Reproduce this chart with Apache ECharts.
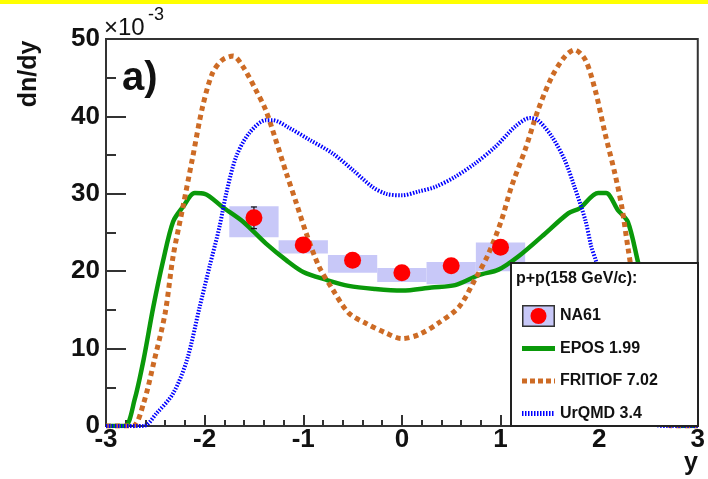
<!DOCTYPE html>
<html>
<head>
<meta charset="utf-8">
<script src="https://cdn.jsdelivr.net/npm/echarts@6/dist/echarts.min.js"></script>
<style>
  html, body { margin: 0; padding: 0; background: #fff; }
  #main { width: 708px; height: 479px; }
</style>
</head>
<body>
<div id="main"></div>
<script>
// NA61 p+p 158 GeV/c, dn/dy (x 10^-3)
var ptY = [-1.5, -1, -0.5, 0, 0.5, 1];
var ptVal = [26.9, 23.4, 21.4, 19.8, 20.7, 23.1];
var statErr = [1.4, 0.6, 0.5, 0.5, 0.5, 0.6];
var sysLo = [24.4, 22.3, 19.8, 18.6, 18.3, 20.0];
var sysHi = [28.4, 24.0, 22.1, 20.4, 21.2, 23.7];
var binHalf = 0.25;

// model curves [y, dn/dy]
var epos = [[-3,0],[-2.81,0],[-2.71,3.4],[-2.62,8.5],[-2.52,15.4],[-2.42,21.4],[-2.32,26.4],[-2.22,28.3],
  [-2.10,30.1],[-2.0,30.0],[-1.82,28.3],[-1.61,26.4],[-1.38,23.6],[-1.17,21.4],[-1.0,19.9],[-0.77,18.9],
  [-0.54,18.1],[-0.27,17.7],[0,17.5],[0.30,17.9],[0.54,18.2],[0.78,19.5],[0.98,20.2],[1.18,21.9],
  [1.42,24.5],[1.69,27.5],[1.80,28.1],[1.99,30.1],[2.07,30.1],[2.19,27.9],[2.29,26.4],[2.39,21.4],
  [2.50,15.4],[2.60,8.5],[2.70,3.4],[2.80,0],[3,0]];
var fritiof = [[-3,0],[-2.73,0],[-2.62,2.9],[-2.51,8.5],[-2.40,14.6],[-2.32,21.9],[-2.22,28.3],[-2.12,34.8],
  [-2.02,41.3],[-1.92,45.6],[-1.82,47.3],[-1.71,47.8],[-1.61,46.4],[-1.48,43.4],[-1.38,40.8],[-1.28,37.0],
  [-1.17,32.6],[-1.07,28.8],[-0.97,24.9],[-0.84,20.6],[-0.70,17.6],[-0.54,14.6],[-0.37,13.3],[-0.16,12.0],
  [0,11.3],[0.17,11.8],[0.37,13.3],[0.58,15.4],[0.74,18.9],[0.88,22.3],[1.01,26.6],[1.11,30.9],[1.25,35.7],
  [1.38,40.8],[1.52,45.1],[1.65,47.7],[1.75,48.6],[1.86,47.3],[1.96,43.4],[2.06,37.8],[2.16,32.6],
  [2.23,28.3],[2.29,23.2],[2.40,14.6],[2.51,8.5],[2.62,2.9],[2.73,0],[3,0]];
var urqmd = [[-3,0],[-2.62,0],[-2.49,1.6],[-2.32,4.2],[-2.18,8.5],[-2.05,15.4],[-1.95,20.6],[-1.85,25.7],
  [-1.78,30.1],[-1.68,34.8],[-1.55,37.8],[-1.38,39.5],[-1.31,39.5],[-1.14,38.5],[-0.94,37.0],[-0.70,35.2],
  [-0.50,33.1],[-0.30,30.9],[-0.16,30.0],[0,29.8],[0.17,30.3],[0.34,30.9],[0.54,32.2],[0.74,33.9],
  [0.95,36.1],[1.15,38.7],[1.30,39.8],[1.38,39.5],[1.52,37.4],[1.65,34.4],[1.75,30.9],[1.86,26.6],
  [1.92,23.2],[1.97,21.2],[2.05,15.4],[2.18,8.5],[2.32,4.2],[2.49,1.6],[2.62,0],[3,0]];

var legendNames = ['NA61', 'EPOS 1.99', 'FRITIOF 7.02', 'UrQMD 3.4'];

var cGreen = '#0a990a', cOrange = '#cd6b25', cBlue = '#0000ff', cBox = '#c8c8f8';
var font = '"Liberation Sans", Arial, sans-serif';

function svgIcon(body) {
  return 'image://data:image/svg+xml;charset=utf-8,' + encodeURIComponent(
    '<svg xmlns="http://www.w3.org/2000/svg" width="33" height="22" viewBox="0 0 33 22">' + body + '</svg>');
}
var icons = [
  svgIcon('<rect x="0.75" y="0.75" width="31.5" height="20.5" fill="' + cBox + '" stroke="#333" stroke-width="1.5"/><circle cx="16.5" cy="11" r="8" fill="#ff0000"/>'),
  svgIcon('<line x1="0" y1="11" x2="33" y2="11" stroke="' + cGreen + '" stroke-width="5"/>'),
  svgIcon('<line x1="0" y1="11" x2="33" y2="11" stroke="' + cOrange + '" stroke-width="5" stroke-dasharray="5,3"/>'),
  svgIcon('<line x1="0" y1="11" x2="33" y2="11" stroke="' + cBlue + '" stroke-width="5" stroke-dasharray="1.5,1.5"/>')
];

var boxData = ptY.map(function (y, i) { return [y, sysLo[i], sysHi[i]]; });
var errData = ptY.map(function (y, i) { return [y, ptVal[i] - statErr[i], ptVal[i] + statErr[i]]; });
var ptData = ptY.map(function (y, i) { return [y, ptVal[i]]; });

var chart = echarts.init(document.getElementById('main'));
var option = {
  animation: false,
  grid: { left: 106, right: 10, top: 39, bottom: 53, show: true, borderColor: '#333', borderWidth: 2 },
  xAxis: {
    type: 'value', min: -3, max: 3, interval: 1,
    axisLine: { onZero: false, lineStyle: { color: '#333', width: 2 } },
    axisTick: { inside: true, length: 11, lineStyle: { color: '#333', width: 2 } },
    minorTick: { show: true, splitNumber: 5, length: 6, lineStyle: { color: '#333', width: 2 } },
    splitLine: { show: false },
    axisLabel: { margin: 1, fontSize: 26, fontWeight: 'bold', color: '#111', fontFamily: font }
  },
  yAxis: {
    type: 'value', min: 0, max: 50, interval: 10,
    axisLine: { onZero: false, lineStyle: { color: '#333', width: 2 } },
    axisTick: { inside: true, length: 20, lineStyle: { color: '#333', width: 2 } },
    minorTick: { show: true, splitNumber: 2, length: 10, lineStyle: { color: '#333', width: 2 } },
    splitLine: { show: false },
    axisLabel: { margin: 6, fontSize: 26, fontWeight: 'bold', color: '#111', fontFamily: font }
  },
  legend: {
    orient: 'vertical', left: 517, top: 300,
    itemWidth: 33, itemHeight: 22, itemGap: 10.5,
    selectedMode: false,
    textStyle: { fontSize: 16, fontWeight: 'bold', color: '#111', fontFamily: font },
    data: legendNames.map(function (n, i) { return { name: n, icon: icons[i] }; })
  },
  graphic: [
    { type: 'rect', shape: { x: 0, y: 0, width: 708, height: 4 }, style: { fill: '#ffff00' } },
    { type: 'text', x: 122, y: 79, style: { text: 'a)', font: 'bold 40px ' + font, fill: '#111', verticalAlign: 'middle' } },
    { type: 'text', x: 104, y: 28, style: { text: '×10', font: '24px ' + font, fill: '#111', verticalAlign: 'middle' } },
    { type: 'text', x: 148, y: 15, style: { text: '-3', font: '18px ' + font, fill: '#111', verticalAlign: 'middle' } },
    { type: 'text', x: 29, y: 74, rotation: Math.PI / 2,
      style: { text: 'dn/dy', font: 'bold 25px ' + font, fill: '#111', align: 'center', verticalAlign: 'middle' } },
    { type: 'text', x: 698, y: 463, style: { text: 'y', font: 'bold 25px ' + font, fill: '#111', align: 'right', verticalAlign: 'middle' } },
    { type: 'rect', z: 3, shape: { x: 511, y: 263, width: 187, height: 163 }, style: { fill: '#fff', stroke: '#222', lineWidth: 2 } },
    { type: 'text', z: 5, x: 516, y: 279, style: { text: 'p+p(158 GeV/c):', font: 'bold 16px ' + font, fill: '#111', verticalAlign: 'middle' } }
  ],
  series: [
    {
      name: 'NA61', type: 'custom', z: 1, data: boxData,
      renderItem: function (params, api) {
        var p1 = api.coord([api.value(0) - binHalf, api.value(2)]);
        var p2 = api.coord([api.value(0) + binHalf, api.value(1)]);
        return { type: 'rect', shape: { x: p1[0], y: p1[1], width: p2[0] - p1[0], height: p2[1] - p1[1] },
          style: { fill: cBox } };
      }
    },
    {
      name: 'EPOS 1.99', type: 'line', z: 2, data: epos, showSymbol: false, smooth: 0.3,
      lineStyle: { color: cGreen, width: 4.5 }
    },
    {
      name: 'FRITIOF 7.02', type: 'line', z: 2, data: fritiof, showSymbol: false, smooth: 0.3,
      lineStyle: { color: cOrange, width: 5, type: [5, 4] }
    },
    {
      name: 'UrQMD 3.4', type: 'line', z: 2, data: urqmd, showSymbol: false, smooth: 0.3,
      lineStyle: { color: cBlue, width: 4, type: [1.5, 1.5] }
    },
    {
      name: 'NA61', type: 'custom', z: 3, data: errData,
      renderItem: function (params, api) {
        var lo = api.coord([api.value(0), api.value(1)]);
        var hi = api.coord([api.value(0), api.value(2)]);
        var s = { stroke: '#111', lineWidth: 1.2 };
        return { type: 'group', children: [
          { type: 'line', shape: { x1: lo[0], y1: lo[1], x2: hi[0], y2: hi[1] }, style: s },
          { type: 'line', shape: { x1: lo[0] - 3, y1: lo[1], x2: lo[0] + 3, y2: lo[1] }, style: s },
          { type: 'line', shape: { x1: hi[0] - 3, y1: hi[1], x2: hi[0] + 3, y2: hi[1] }, style: s }
        ] };
      }
    },
    {
      name: 'NA61', type: 'scatter', z: 4, data: ptData, symbol: 'circle', symbolSize: 17,
      itemStyle: { color: '#ff0000', opacity: 1 }
    }
  ]
};
chart.setOption(option);
</script>
</body>
</html>
